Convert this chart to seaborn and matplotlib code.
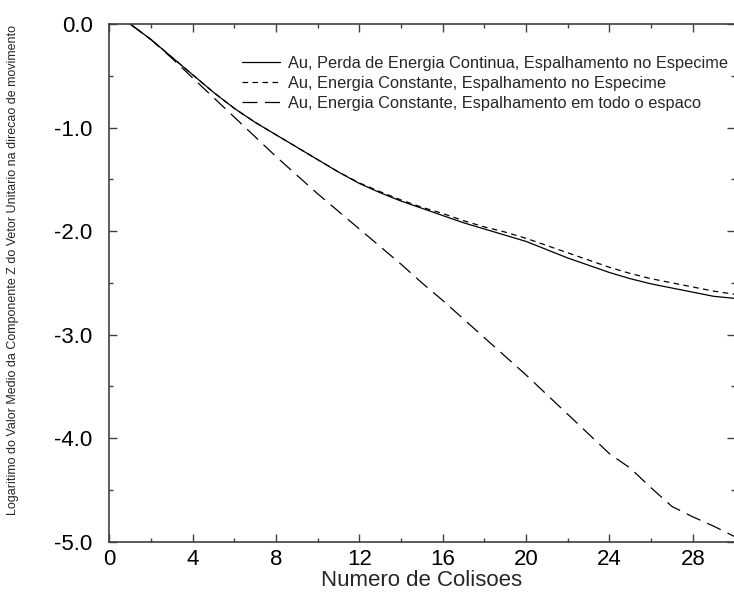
import matplotlib
matplotlib.use("Agg")
import matplotlib.pyplot as plt
from matplotlib.ticker import MultipleLocator, FuncFormatter
import numpy as np
import pandas as pd
import seaborn as sns

# Number of collisions
colisoes = list(range(1, 31))

# Log of mean z-direction cosine, one list per simulation setup
perda_continua_especime = [
    0.00, -0.15, -0.32, -0.49, -0.66, -0.815, -0.95, -1.07, -1.19, -1.31,
    -1.43, -1.54, -1.63, -1.71, -1.78, -1.85, -1.92, -1.98, -2.04, -2.10,
    -2.18, -2.26, -2.33, -2.40, -2.46, -2.51, -2.55, -2.59, -2.63, -2.65,
]
constante_especime = [
    0.00, -0.15, -0.32, -0.49, -0.66, -0.815, -0.95, -1.07, -1.19, -1.31,
    -1.43, -1.535, -1.62, -1.70, -1.77, -1.83, -1.90, -1.96, -2.01, -2.07,
    -2.14, -2.21, -2.28, -2.35, -2.41, -2.46, -2.50, -2.54, -2.58, -2.61,
]
constante_todo_espaco = [
    0.00, -0.15, -0.33, -0.52, -0.71, -0.90, -1.09, -1.28, -1.46, -1.64,
    -1.81, -1.98, -2.15, -2.32, -2.50, -2.67, -2.85, -3.03, -3.21, -3.39,
    -3.58, -3.77, -3.96, -4.15, -4.29, -4.48, -4.66, -4.76, -4.85, -4.95,
]

rotulos = [
    "Au, Perda de Energia Continua, Espalhamento no Especime",
    "Au, Energia Constante, Espalhamento no Especime",
    "Au, Energia Constante, Espalhamento em todo o espaco",
]

df = pd.DataFrame({
    "colisoes": colisoes * 3,
    "valor": perda_continua_especime + constante_especime + constante_todo_espaco,
    "serie": [rotulos[0]] * 30 + [rotulos[1]] * 30 + [rotulos[2]] * 30,
})

sns.set_style("ticks")
plt.rcParams["font.family"] = ["Liberation Sans", "DejaVu Sans"]
plt.rcParams["axes.unicode_minus"] = False

fig = plt.figure(figsize=(7.34, 6.08), dpi=100)
ax = fig.add_axes([109.3 / 734, 66.3 / 608, 625.2 / 734, 517.7 / 608])

estilos = {rotulos[0]: "", rotulos[1]: (4.5, 3.5), rotulos[2]: (12, 6)}
sns.lineplot(data=df, x="colisoes", y="valor", style="serie", dashes=estilos,
             style_order=rotulos, color="black", linewidth=0.9, ax=ax)

ax.set_xlim(0, 30)
ax.set_ylim(-5, 0)
ax.xaxis.set_major_locator(MultipleLocator(4))
ax.xaxis.set_minor_locator(MultipleLocator(2))
ax.yaxis.set_major_locator(MultipleLocator(1))
ax.yaxis.set_minor_locator(MultipleLocator(0.5))
ax.yaxis.set_major_formatter(FuncFormatter(lambda v, p: f"{v:.1f}".replace("-0.0", "0.0")))
ax.xaxis.set_major_formatter(FuncFormatter(lambda v, p: f"{v:.0f}"))

cor_eixo = "#404040"
for lado in ["left", "bottom", "top", "right"]:
    ax.spines[lado].set_visible(True)
    ax.spines[lado].set_color(cor_eixo)
    ax.spines[lado].set_linewidth(1.2)

ax.tick_params(which="both", direction="in", top=True, right=True,
               color=cor_eixo, width=1.0, labelsize=16, labelcolor="black")
ax.tick_params(which="major", length=6)
ax.tick_params(which="minor", length=3)
ax.tick_params(axis="y", which="major", pad=12)
ax.tick_params(axis="x", which="major", pad=5)

ax.set_xlabel("Numero de Colisoes", fontsize=16, labelpad=0)
ax.set_ylabel("")
fig.text(13 / 734, 1 - 270 / 608,
         "Logaritimo do Valor Medio da Componente Z do Vetor Unitario na direcao de movimento",
         rotation=90, ha="center", va="center", fontsize=9)

leg = ax.legend(loc="upper right", bbox_to_anchor=(1.0, 0.951), frameon=False,
                fontsize=11.8, handlelength=2.3, handletextpad=0.5,
                labelspacing=0.3, borderaxespad=0.0)

fig.savefig("out.png", dpi=100)
